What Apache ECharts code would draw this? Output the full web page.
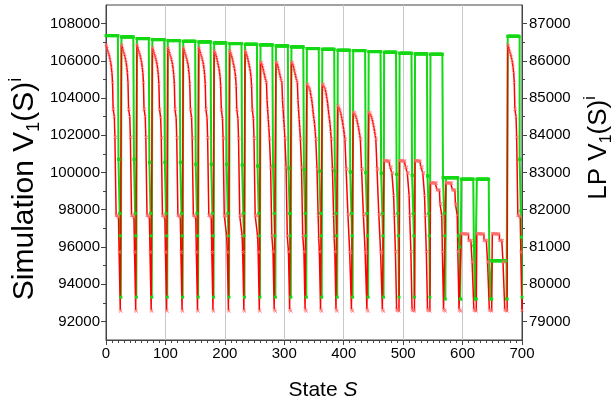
<!DOCTYPE html>
<html>
<head>
<meta charset="utf-8">
<script src="https://cdn.jsdelivr.net/npm/echarts@6/dist/echarts.min.js"></script>
<style>
html, body { margin: 0; padding: 0; background: #fff; }
#chart { width: 613px; height: 408px; }
</style>
</head>
<body>
<div id="chart"></div>
<script>
// states per cycle (x = cycle * 26 + j)
const cycleLen = 26;

// simulation V1(S), left axis, one profile = one cycle of 26 states
const redP1 = [106880,106800,106650,106520,106420,106340,106200,106050,105900,105650,105360,104830,103400,103400,103000,101900,101890,97700,97700,97700,97650,97600,95750,95700,92600,92550];
const redP2 = [106720,106650,106520,106400,106300,106200,106080,105950,105800,105550,105250,104750,103400,103380,102950,101880,101860,97700,97700,97680,97650,97600,95750,95700,92600,92550];
const redP3 = [106550,106480,106400,106300,106180,106050,105900,105750,105600,105400,105150,104650,103400,103350,102900,101850,101830,97700,97700,97680,97650,96600,95750,95700,92600,92550];
const redP4 = [105950,105900,105900,105750,105600,105450,105360,105200,105050,104950,104830,103900,103400,102870,102400,101850,101800,100300,100250,96620,96600,95750,95740,92650,92600,92550];
const redP5 = [104740,104740,104700,104600,104500,104470,104300,104100,103940,103700,103400,103100,102870,102600,102200,101800,101780,100200,100190,97700,96450,95750,95740,92650,92600,92550];
const redP6 = [103580,103560,103500,103400,103300,103200,103040,102900,102700,102500,102300,102050,101800,101780,100200,100190,100150,97790,97750,97700,95750,95740,95700,92650,92600,92550];
const redP7 = [103240,103230,103200,103150,103050,102950,102850,102700,102550,102400,102200,102000,101800,101780,100200,100190,100150,97790,97750,97700,95750,95740,95700,92650,92600,92550];
const redP8 = [100640,100640,100640,100630,100630,100620,100620,100610,100610,100600,100290,100280,100280,99980,99970,99960,98770,97700,97700,95750,95740,92650,92600,92600,92600,92550];
const redP9 = [99450,99450,99450,99440,99440,99440,99430,99430,99430,99420,99420,99070,99070,99060,99060,99050,98320,98310,98300,97700,95750,95740,92650,92600,92600,92550];
const redP10 = [96720,96720,96720,96710,96710,96710,96700,96700,96700,96690,96690,96690,96360,96360,96350,96350,96340,96340,95200,95200,95190,92650,92600,92600,92600,92550];

const redCycles = [redP1, redP1, redP1, redP2, redP2, redP2, redP2, redP3, redP3, redP3,
  redP4, redP4, redP4, redP5, redP5, redP6, redP7, redP7, redP8, redP8, redP8,
  redP9, redP9, redP10, redP10, redP10, redP1];

// LP V1(S), right axis: levels and how many states each level holds
const greenLevel = [
  86678, 83354, 81900, 81300, 79650,
  86643, 83354, 81900, 81300, 79650,
  86598, 83273, 81900, 81300, 79650,
  86571, 83273, 81900, 81300, 79650,
  86544, 83273, 81900, 81300, 79650,
  86525, 83220, 81900, 81300, 79650,
  86509, 83220, 81900, 81300, 79650,
  86483, 83220, 81900, 81300, 79650,
  86464, 83201, 81900, 81300, 79650,
  86445, 83174, 81900, 81300, 79650,
  86429, 83174, 81900, 81300, 79650,
  86402, 83113, 81900, 81300, 79650,
  86375, 83086, 81900, 81300, 79650,
  86330, 83040, 81900, 81300, 79650,
  86311, 83040, 81900, 81300, 79650,
  86284, 83013, 81900, 81300, 79650,
  86276, 82997, 81900, 81300, 79650,
  86249, 82978, 81900, 81300, 79650,
  86231, 82952, 81900, 81300, 79650,
  86204, 82925, 81900, 81300, 79650,
  86188, 82906, 81900, 81300, 79650,
  86177, 82863, 81900, 81300, 79600,
  82860, 81300, 81000, 79600,
  82820, 81030, 79600,
  82820, 80630, 79600,
  80630, 79600,
  86660, 83354, 81967, 81263, 79650
];
const greenRun = [
  21,2,1,1,1, 21,2,1,1,1, 21,2,1,1,1, 21,2,1,1,1, 21,2,1,1,1,
  21,2,1,1,1, 21,2,1,1,1, 21,2,1,1,1, 21,2,1,1,1, 21,2,1,1,1,
  21,2,1,1,1, 21,2,1,1,1, 21,2,1,1,1, 21,2,1,1,1, 21,2,1,1,1,
  21,2,1,1,1, 21,2,1,1,1, 21,2,1,1,1, 21,2,1,1,1, 21,2,1,1,1,
  21,2,1,1,1, 21,2,1,1,1,
  21,2,1,2,
  21,2,3,
  21,2,3,
  24,2,
  20,2,1,1,2
];

// tick labels
const leftTicks = [92000, 94000, 96000, 98000, 100000, 102000, 104000, 106000, 108000];
const leftMinor = [93000, 95000, 97000, 99000, 101000, 103000, 105000, 107000];
const rightTicks = [79000, 80000, 81000, 82000, 83000, 84000, 85000, 86000, 87000];
const rightMinor = [79500, 80500, 81500, 82500, 83500, 84500, 85500, 86500];

let redData = [];
redCycles.forEach(function (p, k) {
  p.forEach(function (v, j) { redData.push([k * cycleLen + j, v]); });
});
let greenData = [];
let s = 0;
greenLevel.forEach(function (v, i) {
  for (let n = 0; n < greenRun[i]; n++) { greenData.push([s, v]); s++; }
});

const font = 'Liberation Sans, Arial, sans-serif';
const axisCol = '#444';
const plain = function (v) { return String(v); };

let myChart = echarts.init(document.getElementById('chart'));
myChart.setOption({
  animation: false,
  grid: { left: 106, right: 91, top: 5, bottom: 68, show: true, borderColor: axisCol, borderWidth: 1 },
  xAxis: {
    type: 'value', min: 0, max: 700, interval: 100,
    axisLine: { show: true, onZero: false, lineStyle: { color: axisCol } },
    axisTick: { show: true, length: 5, lineStyle: { color: axisCol } },
    minorTick: { show: true, splitNumber: 10, length: 3, lineStyle: { color: axisCol } },
    splitLine: { show: true, lineStyle: { color: '#c8c8c8', width: 1 } },
    axisLabel: { color: '#000', fontSize: 15, fontFamily: font, margin: 6, formatter: plain }
  },
  yAxis: [
    {
      type: 'value', position: 'left', min: 91000, max: 109000, interval: 1000,
      axisLine: { show: true, lineStyle: { color: axisCol } },
      axisTick: { show: true, length: 5, customValues: leftTicks, lineStyle: { color: axisCol } },
      axisLabel: { customValues: leftTicks, color: '#000', fontSize: 15, fontFamily: font, margin: 6, formatter: plain },
      splitLine: { show: false }
    },
    {
      type: 'value', position: 'right', min: 78500, max: 87500, interval: 500,
      axisLine: { show: true, lineStyle: { color: axisCol } },
      axisTick: { show: true, length: 5, customValues: rightTicks, lineStyle: { color: axisCol } },
      axisLabel: { customValues: rightTicks, color: '#000', fontSize: 15, fontFamily: font, margin: 7, formatter: plain },
      splitLine: { show: false }
    },
    {
      type: 'value', position: 'left', min: 91000, max: 109000, interval: 1000,
      axisLine: { show: false },
      axisTick: { show: true, length: 3, customValues: leftMinor, lineStyle: { color: axisCol } },
      axisLabel: { show: false },
      splitLine: { show: false }
    },
    {
      type: 'value', position: 'right', min: 78500, max: 87500, interval: 500,
      axisLine: { show: false },
      axisTick: { show: true, length: 3, customValues: rightMinor, lineStyle: { color: axisCol } },
      axisLabel: { show: false },
      splitLine: { show: false }
    }
  ],
  graphic: [
    {
      type: 'text', x: 25, y: 189, rotation: Math.PI / 2,
      style: {
        text: '{a|Simulation V}{b|1}{a|(S)}{c|i}', align: 'center', verticalAlign: 'middle',
        rich: {
          a: { fontSize: 30, fontFamily: font, fill: '#000', lineHeight: 36 },
          b: { fontSize: 18, fontFamily: font, fill: '#000', lineHeight: 18, verticalAlign: 'bottom' },
          c: { fontSize: 18, fontFamily: font, fill: '#000', lineHeight: 18, verticalAlign: 'top' }
        }
      }
    },
    {
      type: 'text', x: 599, y: 148, rotation: Math.PI / 2,
      style: {
        text: '{a|LP V}{b|1}{a|(S)}{c|i}', align: 'center', verticalAlign: 'middle',
        rich: {
          a: { fontSize: 26, fontFamily: font, fill: '#000', lineHeight: 32 },
          b: { fontSize: 16, fontFamily: font, fill: '#000', lineHeight: 16, verticalAlign: 'bottom' },
          c: { fontSize: 16, fontFamily: font, fill: '#000', lineHeight: 16, verticalAlign: 'top' }
        }
      }
    },
    {
      type: 'text', x: 323, y: 390,
      style: {
        text: '{a|State }{b|S}', align: 'center', verticalAlign: 'middle',
        rich: {
          a: { fontSize: 21, fontFamily: font, fill: '#000' },
          b: { fontSize: 21, fontFamily: font, fill: '#000', fontStyle: 'italic' }
        }
      }
    }
  ],
  series: [
    {
      name: 'LP', type: 'line', yAxisIndex: 1, data: greenData, step: 'end',
      symbol: 'rect', symbolSize: 3, showAllSymbol: true,
      lineStyle: { color: '#14d814', width: 2 },
      itemStyle: { color: '#14d814' }
    },
    {
      name: 'Simulation', type: 'line', yAxisIndex: 0, data: redData, step: 'end',
      symbol: 'path://M0,1L1,0L5,4L9,0L10,1L6,5L10,9L9,10L5,6L1,10L0,9L4,5Z', symbolSize: 3.5, showAllSymbol: true,
      lineStyle: { color: '#ff0000', width: 1.5 },
      itemStyle: { color: '#ff7070' }
    }
  ]
});
</script>
</body>
</html>
